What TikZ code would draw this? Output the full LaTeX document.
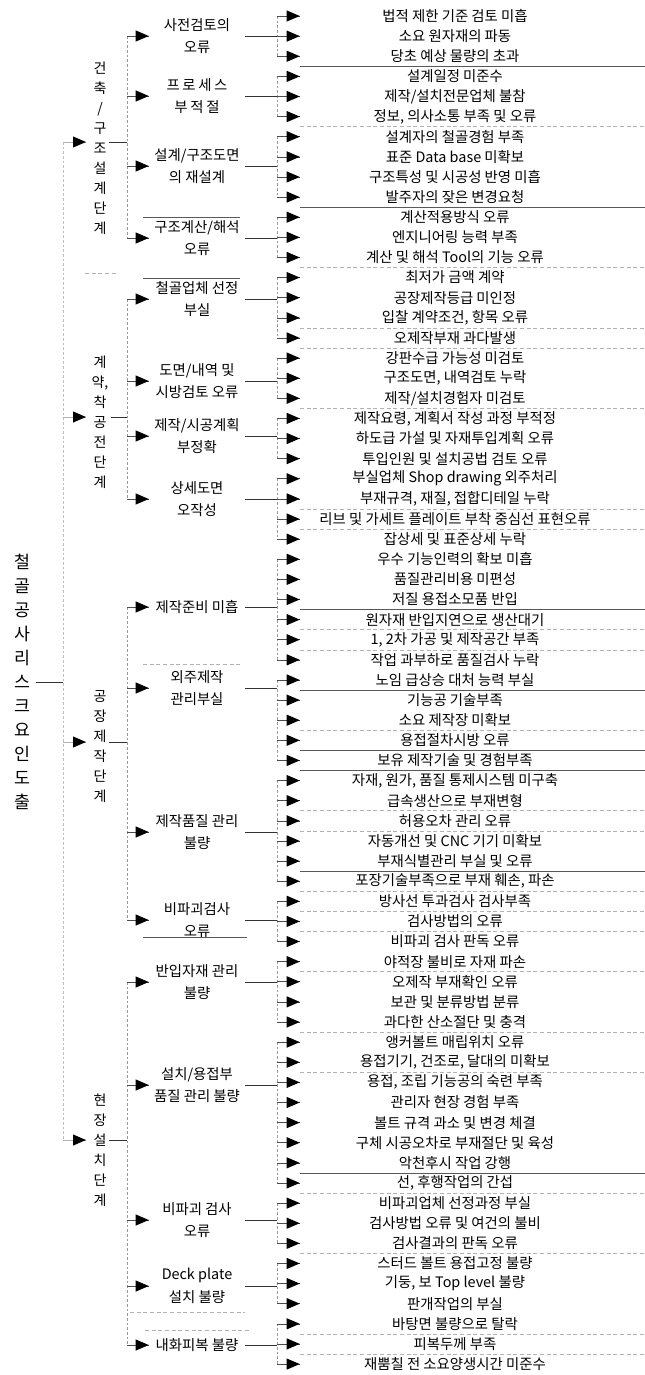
\documentclass[tikz,border=0pt]{standalone}
\usepackage{fontspec}
\setmainfont{Noto Sans CJK KR}
\usetikzlibrary{arrows.meta}
\newcommand\leaffont{\fontsize{10.8}{13}\selectfont}
\newcommand\catfont{\fontsize{10.8}{17}\selectfont}
\newcommand\stagefont{\fontsize{10.5}{15}\selectfont}
\newcommand\rootfont{\fontsize{13}{18}\selectfont}
\begin{document}
\begin{tikzpicture}[x=0.75pt,y=-0.75pt,
  leaf/.style={minimum width=232.5pt,inner sep=0pt,align=center,font=\leaffont},
  cat/.style={minimum width=72pt,inner sep=0pt,align=center,font=\catfont},
  stagetxt/.style={inner xsep=2pt,inner ysep=0pt,align=center,font=\stagefont},
  roottxt/.style={inner xsep=4pt,inner ysep=0pt,align=center,font=\rootfont},
  stub/.style={black!80,line width=0.6pt},
  faint/.style={black!40,line width=0.4pt,dash pattern=on 2pt off 1.5pt},
  arrline/.style={black!70,line width=0.45pt},
  tri/.pic={\fill[black] (0,0) -- (-13,-5.6) -- (-13,5.6) -- cycle;},
  sepdark/.style={black!65,line width=0.5pt},
  seplight/.style={black!30,line width=0.4pt,dash pattern=on 3pt off 2pt},
]
\fill[white] (0,0) rectangle (645,1375);
\useasboundingbox (0,0) rectangle (645,1375);

% x positions of the brackets
\coordinate (RX) at (63,0);
\coordinate (SX) at (127,0);
\coordinate (CX) at (277,0);

% ---------- leaves ----------
\foreach \t [count=\i] in {
법적 제한 기준 검토 미흡, 소요 원자재의 파동, 당초 예상 물량의 초과,
설계일정 미준수, 제작/설치전문업체 불참, {정보, 의사소통 부족 및 오류},
설계자의 철골경험 부족, 표준 Data base 미확보, 구조특성 및 시공성 반영 미흡, 발주자의 잦은 변경요청,
계산적용방식 오류, 엔지니어링 능력 부족, 계산 및 해석 Tool의 기능 오류,
최저가 금액 계약, 공장제작등급 미인정, {입찰 계약조건, 항목 오류}, 오제작부재 과다발생,
강판수급 가능성 미검토, {구조도면, 내역검토 누락}, 제작/설치경험자 미검토,
{제작요령, 계획서 작성 과정 부적정}, 하도급 가설 및 자재투입계획 오류, 투입인원 및 설치공법 검토 오류,
부실업체 Shop drawing 외주처리, {부재규격, 재질, 접합디테일 누락}, 리브 및 가세트 플레이트 부착 중심선 표현오류, 잡상세 및 표준상세 누락,
우수 기능인력의 확보 미흡, 품질관리비용 미편성, 저질 용접소모품 반입, 원자재 반입지연으로 생산대기, {1, 2차 가공 및 제작공간 부족}, 작업 과부하로 품질검사 누락,
노임 급상승 대처 능력 부실, 기능공 기술부족, 소요 제작장 미확보, 용접절차시방 오류, 보유 제작기술 및 경험부족,
{자재, 원가, 품질 통제시스템 미구축}, 급속생산으로 부재변형, 허용오차 관리 오류, 자동개선 및 CNC 기기 미확보, 부재식별관리 부실 및 오류, {포장기술부족으로 부재 훼손, 파손},
방사선 투과검사 검사부족, 검사방법의 오류, 비파괴 검사 판독 오류,
야적장 불비로 자재 파손, 오제작 부재확인 오류, 보관 및 분류방법 분류, 과다한 산소절단 및 충격,
앵커볼트 매립위치 오류, {용접기기, 건조로, 달대의 미확보}, {용접, 조립 기능공의 숙련 부족}, 관리자 현장 경험 부족, 볼트 규격 과소 및 변경 체결, 구체 시공오차로 부재절단 및 육성, 악천후시 작업 강행, {선, 후행작업의 간섭},
비파괴업체 선정과정 부실, 검사방법 오류 및 여건의 불비, 검사결과의 판독 오류,
스터드 볼트 용접고정 불량, {기둥, 보 Top level 불량}, 판개작업의 부실,
바탕면 불량으로 탈락, 피복두께 부족, 재뿜칠 전 소요양생시간 미준수}
  \node[leaf] (l\i) at (455,{16+(\i-1)*20.12}) {\t};

% ---------- categories ----------
\node[cat] (c1)  at (197,36)   {사전검토의\\오류};
\node[cat] (c2)  at (197,96)   {프\hspace{2pt}로\hspace{2pt}세\hspace{2pt}스\\부\hspace{2pt}적\hspace{2pt}절};
\node[cat] (c3)  at (197,166)  {설계/구조도면\\의 재설계};
\node[cat] (c4)  at (197,238)  {구조계산/해석\\오류};
\node[cat] (c5)  at (197,299)  {철골업체 선정\\부실};
\node[cat] (c6)  at (197,381)  {도면/내역 및\\시방검토 오류};
\node[cat] (c7)  at (197,436)  {제작/시공계획\\부정확};
\node[cat] (c8)  at (197,499)  {상세도면\\오작성};
\node[cat] (c9)  at (197,607)  {제작준비 미흡};
\node[cat] (c10) at (197,688)  {외주제작\\관리부실};
\node[cat] (c11) at (197,832)  {제작품질 관리\\불량};
\node[cat] (c12) at (197,920)  {비파괴검사\\오류};
\node[cat] (c13) at (197,982)  {반입자재 관리\\불량};
\node[cat] (c14) at (197,1085) {설치/용접부\\품질 관리 불량};
\node[cat] (c15) at (197,1220) {비파괴 검사\\오류};
\node[cat] (c16) at (197,1286) {Deck plate\\설치 불량};
\node[cat] (c17) at (197,1345) {내화피복 불량};

% ---------- stages ----------
\node[stagetxt] (st1) at (100,148)  {건\\축\\/\\구\\조\\설\\계\\단\\계};
\node[stagetxt] (st2) at (100,422)  {계\\약,\\착\\공\\전\\단\\계};
\node[stagetxt] (st3) at (100,747)  {공\\장\\제\\작\\단\\계};
\node[stagetxt] (st4) at (100,1150) {현\\장\\설\\치\\단\\계};
\coordinate (sa1) at (86,142);
\coordinate (sa2) at (86,417);
\coordinate (sa3) at (86,742);
\coordinate (sa4) at (86,1140);

% ---------- root ----------
\node[roottxt] (r) at (22,682) {철\\골\\공\\사\\리\\스\\크\\요\\인\\도\\출};

% ---------- connectors: categories -> leaves ----------
\foreach \c/\a/\b in {1/1/3,2/4/6,3/7/10,4/11/13,5/14/17,6/18/20,7/21/23,8/24/27,
                      9/28/33,10/34/38,11/39/44,12/45/47,13/48/51,14/52/59,15/60/62,16/63/65,17/66/68}{
  \draw[stub] (c\c.east) -- (CX |- c\c.east);
  \draw[faint] (CX |- l\a.west) -- (CX |- l\b.west);
  \foreach \k in {\a,...,\b}{
    \draw[arrline] (CX |- l\k.west) -- (l\k.west);
    \pic at (l\k.west) {tri};
  }
}

% ---------- connectors: stages -> categories ----------
\foreach \s/\a/\b in {1/1/4,2/5/8,3/9/12,4/13/17}{
  \draw[stub] (st\s.east |- sa\s) -- (SX |- sa\s);
  \draw[faint] (SX |- c\a.west) -- (SX |- c\b.west);
  \foreach \k in {\a,...,\b}{
    \draw[arrline] (SX |- c\k.west) -- (c\k.west);
    \pic at (c\k.west) {tri};
  }
}

% ---------- connectors: root -> stages ----------
\draw[stub] (r.east) -- (RX |- r.east);
\draw[faint,black!25] (RX |- sa1) -- (RX |- sa4);
\foreach \s in {1,...,4}{
  \draw[arrline,black!30] (RX |- sa\s) -- (sa\s);
  \pic at (sa\s) {tri};
}

% ---------- table rules (scan remnants) ----------
\foreach \i in {3,10,30,34,37,38,43,58}
  \draw[sepdark] (300,{5.94+\i*20.12}) -- (645,{5.94+\i*20.12});
\foreach \i in {6,13,16,17,20,25,26,31,32,36,40,41,44,45,46,48,51,53,59,62,66,67}
  \draw[seplight] (300,{5.94+\i*20.12}) -- (645,{5.94+\i*20.12});
\draw[sepdark] (143,217) -- (240,217);
\draw[sepdark] (143,278) -- (240,278);
\draw[sepdark] (143,937) -- (247,937);
\draw[seplight] (143,664) -- (240,664);
\draw[seplight] (130,1312) -- (245,1312);
\draw[seplight] (145,1330) -- (250,1330);
\draw[seplight] (85,273) -- (118,273);
\end{tikzpicture}
\end{document}
